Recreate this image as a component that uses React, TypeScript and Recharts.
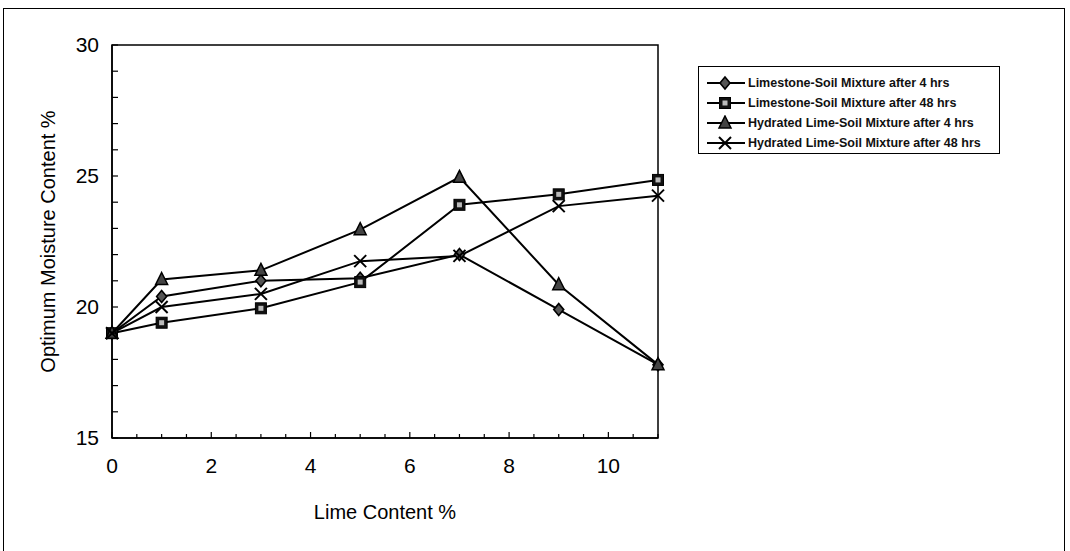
import React from 'react';
import { LineChart, Line, XAxis, YAxis, ReferenceArea, Label } from 'recharts';

const limeContent = [0, 1, 3, 5, 7, 9, 11];
const limestone4h = [19, 20.4, 21.0, 21.1, 22.0, 19.9, 17.8];
const limestone48h = [19, 19.4, 19.95, 20.95, 23.9, 24.3, 24.85];
const hydrated4h = [19, 21.05, 21.4, 22.95, 24.95, 20.85, 17.8];
const hydrated48h = [19, 20.0, 20.5, 21.75, 21.95, 23.85, 24.25];

const xTicks = [0, 0.5, 1, 1.5, 2, 2.5, 3, 3.5, 4, 4.5, 5, 5.5, 6, 6.5, 7, 7.5, 8, 8.5, 9, 9.5, 10, 10.5, 11];
const xLabels = [0, 2, 4, 6, 8, 10];
const yTicks = [15, 16, 17, 18, 19, 20, 21, 22, 23, 24, 25, 26, 27, 28, 29, 30];
const yLabels = [15, 20, 25, 30];

const seriesNames = [
  'Limestone-Soil Mixture after 4 hrs',
  'Limestone-Soil Mixture after 48 hrs',
  'Hydrated Lime-Soil Mixture after 4 hrs',
  'Hydrated Lime-Soil Mixture after 48 hrs',
];

const data = limeContent.map((x, i) => ({
  x,
  ls4: limestone4h[i],
  ls48: limestone48h[i],
  hl4: hydrated4h[i],
  hl48: hydrated48h[i],
}));

const FONT = "'Liberation Sans', Arial, sans-serif";

type Kind = 'diamond' | 'square' | 'triangle' | 'cross';

function Marker({ kind, cx, cy }: { kind: Kind; cx: number; cy: number }) {
  if (kind === 'diamond') {
    return (
      <path d={`M${cx},${cy - 6} L${cx + 5},${cy} L${cx},${cy + 6} L${cx - 5},${cy} Z`} fill="#555" stroke="#000" strokeWidth={1.6} />
    );
  }
  if (kind === 'square') {
    return (
      <g>
        <rect x={cx - 5.5} y={cy - 5.5} width={11} height={11} fill="#111" stroke="#000" strokeWidth={1} />
        <rect x={cx - 2.5} y={cy - 2.5} width={5} height={5} fill="#bbb" />
      </g>
    );
  }
  if (kind === 'triangle') {
    return (
      <path d={`M${cx},${cy - 7} L${cx + 6},${cy + 5} L${cx - 6},${cy + 5} Z`} fill="#444" stroke="#000" strokeWidth={1.5} />
    );
  }
  return (
    <g stroke="#000" strokeWidth={2}>
      <line x1={cx - 6} y1={cy - 6} x2={cx + 6} y2={cy + 6} />
      <line x1={cx - 6} y1={cy + 6} x2={cx + 6} y2={cy - 6} />
    </g>
  );
}

const makeDot = (kind: Kind) => (props: any) => {
  const { cx, cy, index } = props;
  if (cx == null || cy == null) return <g key={index} />;
  return <Marker key={`${kind}-${index}`} kind={kind} cx={cx} cy={cy} />;
};

const kinds: Kind[] = ['diamond', 'square', 'triangle', 'cross'];

function XTick(props: any) {
  const { x, y, payload } = props;
  const major = xLabels.includes(payload.value);
  return (
    <g>
      <line x1={x} y1={y} x2={x} y2={y - (major ? 6 : 4)} stroke="#000" strokeWidth={1.2} />
      {major && (
        <text x={x} y={y + 35} textAnchor="middle" fontSize={21} fontFamily={FONT} fill="#000">
          {payload.value}
        </text>
      )}
    </g>
  );
}

function YTick(props: any) {
  const { x, y, payload } = props;
  const major = yLabels.includes(payload.value);
  return (
    <g>
      <line x1={x} y1={y} x2={x + 6} y2={y} stroke="#000" strokeWidth={1.2} />
      {major && (
        <text x={x - 13} y={y + 7} textAnchor="end" fontSize={21} fontFamily={FONT} fill="#000">
          {payload.value}
        </text>
      )}
    </g>
  );
}

function LegendBox() {
  return (
    <div
      style={{
        position: 'absolute',
        left: 698,
        top: 66,
        border: '1.5px solid #000',
        width: 302,
        height: 88,
        boxSizing: 'border-box',
        padding: '6px 0 0 6px',
        background: '#fff',
      }}
    >
      {seriesNames.map((name, i) => (
        <div key={name} style={{ display: 'flex', alignItems: 'center', height: 20 }}>
          <svg width={42} height={16}>
            <line x1={2} y1={8} x2={40} y2={8} stroke="#000" strokeWidth={2} />
            <Marker kind={kinds[i]} cx={20} cy={8} />
          </svg>
          <span
            style={{
              fontFamily: "'Liberation Sans Narrow', 'Liberation Sans', Arial, sans-serif",
              fontSize: 12.5,
              fontWeight: 'bold',
              color: '#111',
              marginLeft: 1,
              whiteSpace: 'nowrap',
            }}
          >
            {name}
          </span>
        </div>
      ))}
    </div>
  );
}

export default function App() {
  return (
    <div style={{ position: 'absolute', left: 0, top: 0, width: 1070, height: 551, background: '#fff', overflow: 'hidden' }}>
      <div
        style={{
          position: 'absolute',
          left: 3,
          top: 8,
          width: 1062,
          height: 560,
          border: '1.5px solid #000',
          boxSizing: 'border-box',
        }}
      />
      <LineChart
        width={1070}
        height={551}
        data={data}
        margin={{ top: 45, right: 412, left: 0, bottom: 28 }}
        style={{ position: 'absolute', left: 0, top: 0 }}
      >
        <XAxis
          dataKey="x"
          type="number"
          domain={[0, 11]}
          ticks={xTicks}
          interval={0}
          tickLine={false}
          tickSize={0}
          tickMargin={0}
          tick={<XTick />}
          axisLine={{ stroke: '#000', strokeWidth: 1.5 }}
          height={85}
        >
          <Label value="Lime Content %" position="insideBottom" offset={4} style={{ fontSize: 20, fontFamily: FONT, fill: '#000' }} />
        </XAxis>
        <YAxis
          type="number"
          domain={[15, 30]}
          ticks={yTicks}
          interval={0}
          tickLine={false}
          tickSize={0}
          tickMargin={0}
          tick={<YTick />}
          axisLine={{ stroke: '#000', strokeWidth: 1.5 }}
          width={112}
        >
          <Label
            value="Optimum Moisture Content %"
            angle={-90}
            position="insideLeft"
            offset={48}
            style={{ textAnchor: 'middle', fontSize: 20, fontFamily: FONT, fill: '#000' }}
          />
        </YAxis>
        <ReferenceArea x1={0} x2={11} y1={15} y2={30} fill="none" stroke="#000" strokeWidth={1.5} ifOverflow="visible" />
        <Line dataKey="ls4" name={seriesNames[0]} stroke="#000" strokeWidth={2} dot={makeDot('diamond')} isAnimationActive={false} />
        <Line dataKey="ls48" name={seriesNames[1]} stroke="#000" strokeWidth={2} dot={makeDot('square')} isAnimationActive={false} />
        <Line dataKey="hl4" name={seriesNames[2]} stroke="#000" strokeWidth={2} dot={makeDot('triangle')} isAnimationActive={false} />
        <Line dataKey="hl48" name={seriesNames[3]} stroke="#000" strokeWidth={2} dot={makeDot('cross')} isAnimationActive={false} />
      </LineChart>
      <LegendBox />
    </div>
  );
}
